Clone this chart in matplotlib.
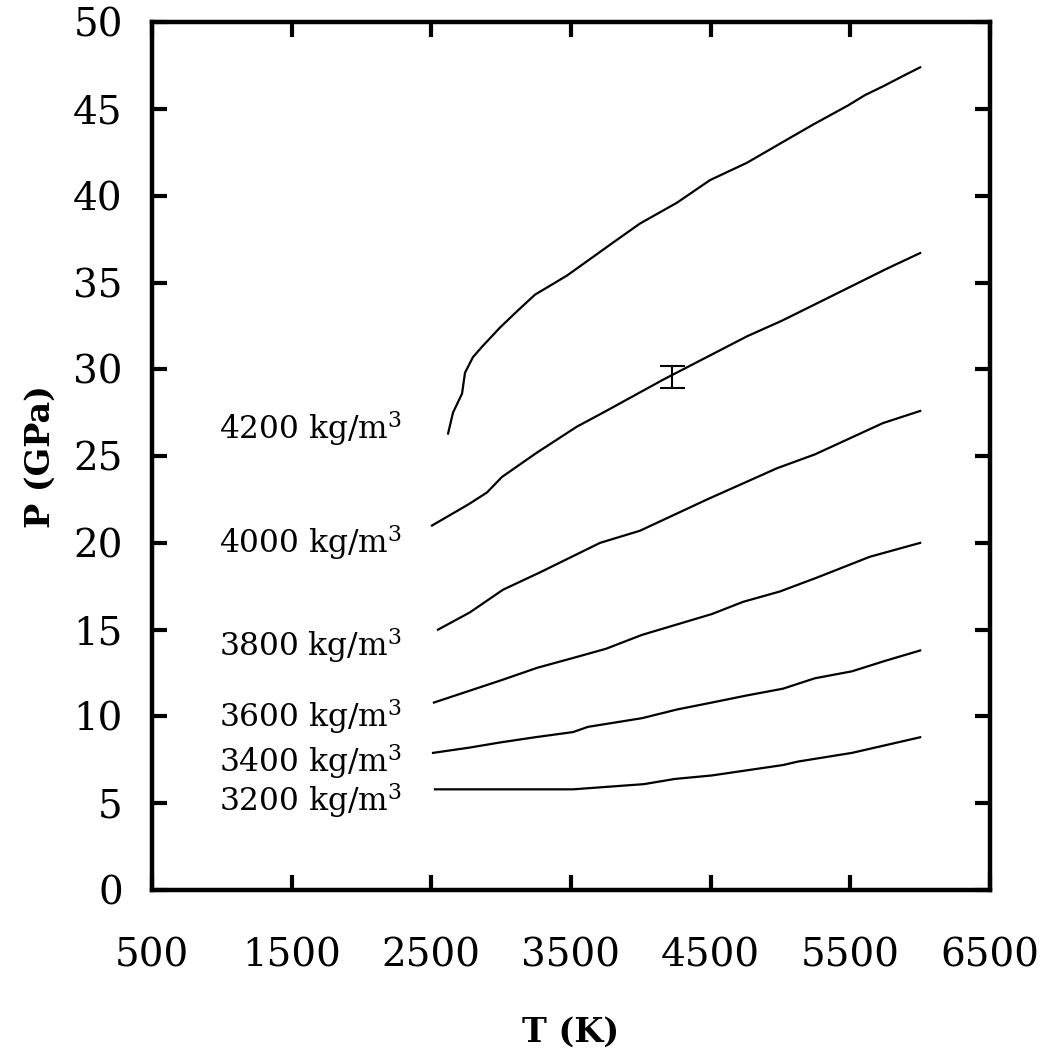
import matplotlib
matplotlib.use("Agg")
import matplotlib.pyplot as plt

plt.rcParams['font.family'] = ['DejaVu Serif']
plt.rcParams['mathtext.fontset'] = 'dejavuserif'

# isocoras: T (K) y P (GPa)
t_4200 = [2620, 2655, 2720, 2741, 2798, 2863, 2991, 3121, 3242, 3471, 3801, 3994,
          4259, 4495, 4760, 4996, 5233, 5483, 5605, 5733, 5877, 6000]
p_4200 = [26.3, 27.5, 28.6, 29.8, 30.7, 31.3, 32.4, 33.4, 34.3, 35.4, 37.3, 38.4,
          39.6, 40.9, 41.9, 43.0, 44.1, 45.2, 45.8, 46.3, 46.9, 47.4]

t_4000 = [2505, 2762, 2898, 3006, 3256, 3543, 3729, 4159, 4760, 5010, 5261, 5762, 6000]
p_4000 = [21.0, 22.2, 22.9, 23.8, 25.2, 26.7, 27.5, 29.4, 31.9, 32.8, 33.8, 35.8, 36.7]

t_3800 = [2548, 2777, 3013, 3278, 3708, 3994, 4474, 4975, 5247, 5733, 6000]
p_3800 = [15.0, 16.0, 17.3, 18.3, 20.0, 20.7, 22.5, 24.3, 25.1, 26.9, 27.6]

t_3600 = [2519, 3006, 3257, 3529, 3751, 4009, 4259, 4509, 4731, 4996, 5261, 5640, 6000]
p_3600 = [10.8, 12.1, 12.8, 13.4, 13.9, 14.7, 15.3, 15.9, 16.6, 17.2, 18.0, 19.2, 20.0]

t_3400 = [2512, 2770, 2992, 3242, 3515, 3622, 4009, 4259, 4509, 4753, 5018, 5247,
          5512, 5748, 6000]
p_3400 = [7.9, 8.2, 8.5, 8.8, 9.1, 9.4, 9.9, 10.4, 10.8, 11.2, 11.6, 12.2,
          12.6, 13.2, 13.8]

t_3200 = [2526, 3515, 4023, 4245, 4509, 5018, 5125, 5512, 6000]
p_3200 = [5.8, 5.8, 6.1, 6.4, 6.6, 7.2, 7.4, 7.9, 8.8]

# etiquetas de densidad y su posicion (T, P de la linea base)
etiquetas = ["4200", "4000", "3800", "3600", "3400", "3200"]
etiq_t = 980
etiq_p = [26.0, 19.4, 13.5, 9.4, 6.8, 4.55]

# punto con barra de error
err_t = 4220
err_p = 29.55
err_dp = 0.65

fig = plt.figure(figsize=(10.41, 10.57), dpi=100)
ax = fig.add_axes([0.146, 0.158, 0.805, 0.821])

for t, p in [(t_4200, p_4200), (t_4000, p_4000), (t_3800, p_3800),
             (t_3600, p_3600), (t_3400, p_3400), (t_3200, p_3200)]:
    ax.plot(t, p, color='black', lw=1.6)

ax.errorbar(err_t, err_p, yerr=err_dp, color='black', lw=1.5, capsize=9, capthick=1.5)

for nombre, p in zip(etiquetas, etiq_p):
    ax.text(etiq_t, p, nombre + r" kg/m$^3$", fontsize=22.5, ha='left', va='baseline')

ax.set_xlim(500, 6500)
ax.set_ylim(0, 50)
ax.set_xticks(range(500, 6501, 1000))
ax.set_yticks(range(0, 51, 5))

for s in ax.spines.values():
    s.set_linewidth(3.2)
ax.tick_params(direction='in', length=11, width=3, top=True, right=True, labelsize=28)
ax.tick_params(axis='x', pad=34)
ax.tick_params(axis='y', pad=21)

ax.set_xlabel('T (K)', fontsize=24, fontweight='bold', labelpad=30)
ax.set_ylabel('P (GPa)', fontsize=24, fontweight='bold', labelpad=12)

fig.savefig('out.png', dpi=100)
